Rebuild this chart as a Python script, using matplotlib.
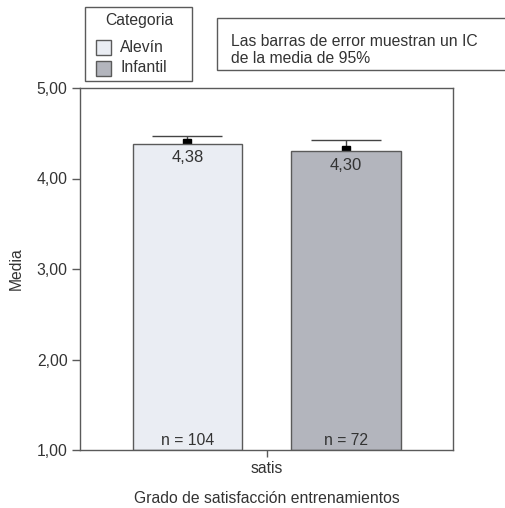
import matplotlib.pyplot as plt
from matplotlib.patches import Rectangle

plt.rcParams['font.family'] = ['Liberation Sans', 'DejaVu Sans']

# datos
categorias = ['Alevín', 'Infantil']
medias = [4.38, 4.30]
ic_inf = [4.29, 4.17]
ic_sup = [4.47, 4.43]
n_casos = [104, 72]
colores = ['#eaedf3', '#b3b5bd']
etiquetas_y = ['1,00', '2,00', '3,00', '4,00', '5,00']

texto_col = '#333333'
borde_col = '#5a5a5a'
fs = 11.3

fig = plt.figure(figsize=(5.05, 5.08), dpi=100)
ax = fig.add_axes([80 / 505, 1 - 450 / 508, 373 / 505, 362 / 508])

pos = [0, 1]
ax.bar(pos, [m - 1 for m in medias], bottom=1, width=0.688, color=colores,
       edgecolor=borde_col, linewidth=1.0, zorder=2)

# barras de error (la parte inferior queda tapada por la barra)
for x, m, lo, hi in zip(pos, medias, ic_inf, ic_sup):
    ax.errorbar(x, m, yerr=[[m - lo], [hi - m]], fmt='none', ecolor='#444444',
                elinewidth=1.0, capsize=25, capthick=1.0, zorder=1)
    ax.plot(x, m + 0.012, marker='s', markersize=6, color='black', zorder=1)

for x, m, n in zip(pos, medias, n_casos):
    ax.annotate(f'{m:.2f}'.replace('.', ','), (x, m), xytext=(0, -10),
                textcoords='offset points', ha='center', va='center',
                fontsize=12, color=texto_col, zorder=3)
    ax.text(x, 1.11, f'n = {n}', ha='center', va='center', fontsize=fs,
            color=texto_col, zorder=3)

ax.set_xlim(-0.678, 1.675)
ax.set_ylim(1, 5)
ax.set_yticks([1, 2, 3, 4, 5])
ax.set_yticklabels(etiquetas_y)
ax.set_xticks([0.5])
ax.set_xticklabels(['satis'])
ax.tick_params(axis='both', colors=borde_col, labelcolor=texto_col,
               labelsize=fs, length=6, width=1.0)
ax.tick_params(axis='y', pad=3)
ax.tick_params(axis='x', length=5, pad=3)
for s in ax.spines.values():
    s.set_color(borde_col)
    s.set_linewidth(1.0)

ax.set_ylabel('Media', fontsize=fs, color=texto_col, labelpad=9)
ax.set_xlabel('Grado de satisfacción entrenamientos', fontsize=fs,
              color=texto_col, labelpad=11)

# leyenda dibujada a mano para controlar el recuadro
px = lambda x, y: (x / 505, 1 - y / 508)
fig.patches.append(Rectangle(px(85, 81), 107 / 505, 74 / 508,
                             transform=fig.transFigure, facecolor='white',
                             edgecolor=borde_col, linewidth=1.0))
fig.text(*px(139, 20), 'Categoria', ha='center', va='center', fontsize=fs,
         color=texto_col)
for i, (cat, c) in enumerate(zip(categorias, colores)):
    yc = 47 + 21 * i
    fig.patches.append(Rectangle(px(96, yc + 7.5), 15 / 505, 15 / 508,
                                 transform=fig.transFigure, facecolor=c,
                                 edgecolor=borde_col, linewidth=1.0))
    fig.text(*px(120, yc), cat, ha='left', va='center', fontsize=fs,
             color=texto_col)

# nota sobre el intervalo de confianza
fig.patches.append(Rectangle(px(217, 70), 320 / 505, 52 / 508,
                             transform=fig.transFigure, facecolor='white',
                             edgecolor=borde_col, linewidth=1.0))
fig.text(*px(231, 34), 'Las barras de error muestran un IC\nde la media de 95%',
         ha='left', va='top', fontsize=fs, color=texto_col, linespacing=1.15)

fig.savefig('out.png', dpi=100)
